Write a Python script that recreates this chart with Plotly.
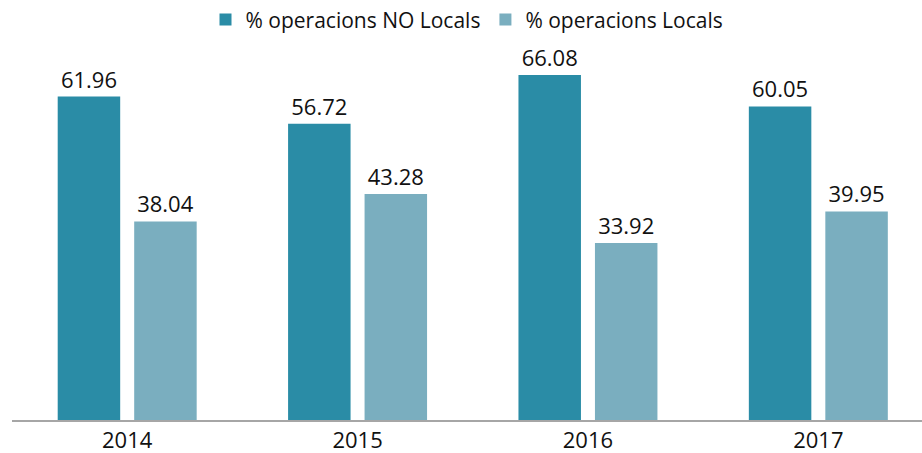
import plotly.graph_objects as go

years = ["2014", "2015", "2016", "2017"]
no_locals = [61.96, 56.72, 66.08, 60.05]
locals_ = [38.04, 43.28, 33.92, 39.95]
series_names = ["% operacions NO Locals", "% operacions Locals"]

FONT = "Open Sans"

fig = go.Figure()
fig.add_trace(go.Bar(
    x=years, y=no_locals, name=series_names[0],
    marker=dict(color="#2a8ca6", line=dict(width=0)),
    text=[f"{v:.2f}" for v in no_locals], textposition="outside",
    textangle=0, constraintext="none", cliponaxis=False,
    textfont=dict(family=FONT, size=22, color="#111111"),
))
fig.add_trace(go.Bar(
    x=years, y=locals_, name=series_names[1],
    marker=dict(color="#7aaebf", line=dict(width=0)),
    text=[f"{v:.2f}" for v in locals_], textposition="outside",
    textangle=0, constraintext="none", cliponaxis=False,
    textfont=dict(family=FONT, size=22, color="#111111"),
))

fig.update_layout(
    width=922, height=453,
    margin=dict(l=12, r=0, t=30, b=33, autoexpand=False),
    paper_bgcolor="white", plot_bgcolor="white",
    barmode="group", bargap=0.336, bargroupgap=0.183,
    font=dict(family=FONT, size=20, color="#111111"),
    showlegend=True,
    legend=dict(orientation="h", x=0.5, xanchor="center", y=1.026, yanchor="middle",
                font=dict(family=FONT, size=21, color="#111111"),
                itemwidth=30, tracegroupgap=0, bgcolor="rgba(0,0,0,0)"),
    xaxis=dict(range=[-0.5, 3.45], showline=True, linecolor="#a6a6a6", linewidth=2,
               ticks="", showgrid=False, tickfont=dict(family=FONT, size=22, color="#111111"),
               fixedrange=True),
    yaxis=dict(range=[0, 74.7], visible=False, showgrid=False, zeroline=False, fixedrange=True),
)

fig.write_html("out.html", config={"displayModeBar": False},
               post_script="document.body.style.margin='0';document.body.style.padding='0';")
